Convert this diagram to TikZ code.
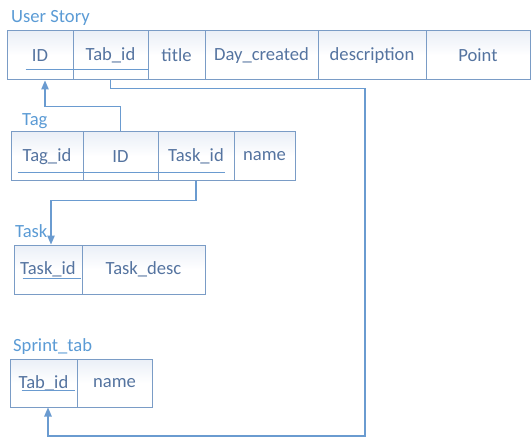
\documentclass[tikz,border=0pt]{standalone}
\usepackage{fontspec}
\setmainfont{Carlito}
\usepackage{xcolor}
\usepackage{tikz}
\usetikzlibrary{arrows.meta,positioning}

\definecolor{cellline}{HTML}{7A9CC6}
\definecolor{celltext}{HTML}{5574A0}
\definecolor{lblblue}{HTML}{5B9BD5}
\definecolor{linkblue}{HTML}{6A9BD0}
\definecolor{cellshade}{HTML}{EAEFF7}

\tikzset{
    cell/.style={draw=cellline, line width=1pt, top color=cellshade, bottom color=white,
        middle color=white, minimum height=49pt, inner sep=0pt, text=celltext,
        font=\fontsize{18.6}{20}\selectfont},
    lbl/.style={anchor=base west, inner sep=0pt, text=lblblue, font=\fontsize{18.6}{20}\selectfont},
    uline/.style={draw=linkblue, line width=0.9pt},
    link/.style={draw=linkblue, line width=1.1pt, -{Triangle[length=9pt,width=7.5pt]}}
}

\begin{document}
\begin{tikzpicture}[x=1pt, y=-1pt]
    \useasboundingbox (0,0) rectangle (532,438);

    % User Story table
    \node[lbl] (usLbl) at (11,23) {User Story};
    \foreach \nm/\txt/\x/\w in {
        ID/ID/40/66,
        Tab/Tab\_id/110.5/75,
        Title/title/176.5/57,
        Day/Day\_created/261.5/113,
        Desc/description/372/108,
        Point/Point/478/104
    } {
        \node[cell, minimum width=\w pt] (us\nm) at (\x,55.5) {\txt};
    }
    \draw[uline] ([xshift=19pt,yshift=11pt]usID.south west) -- ([yshift=11pt]usID.south east);
    \draw[uline] ([yshift=11pt]usTab.south west) -- ([yshift=11pt]usTab.south east);

    % Tag table
    \node[lbl] (tgLbl) at (22,126) {Tag};
    \foreach \nm/\txt/\x/\w in {
        Tag/Tag\_id/47/72,
        ID/ID/120.5/75,
        Task/Task\_id/196/76,
        Name/name/264.5/61
    } {
        \node[cell, minimum width=\w pt] (tg\nm) at (\x,156.5) {\txt};
    }
    \draw[uline] ([xshift=7pt,yshift=9pt]tgTag.south west) -- ([yshift=9pt]tgTag.south east);
    \draw[uline] ([yshift=9pt]tgID.south west) -- ([yshift=9pt]tgID.south east);
    \draw[uline] ([yshift=9pt]tgTask.south west) -- ([xshift=-10pt,yshift=9pt]tgTask.south east);

    % Task table
    \node[lbl] (tkLbl) at (15,237) {Task};
    \foreach \nm/\txt/\x/\w in {
        Task/Task\_id/48/68,
        Desc/Task\_desc/143.5/123
    } {
        \node[cell, minimum width=\w pt] (tk\nm) at (\x,269.5) {\txt};
    }
    \draw[uline] ([xshift=9pt,yshift=16pt]tkTask.south west) -- ([xshift=-2pt,yshift=16pt]tkTask.south east);

    % Sprint_tab table
    \node[lbl] (spLbl) at (13,351) {Sprint\_tab};
    \foreach \nm/\txt/\x/\w in {
        Tab/Tab\_id/43.5/67,
        Name/name/114.5/75
    } {
        \node[cell, minimum width=\w pt, minimum height=48pt] (sp\nm) at (\x,383) {\txt};
    }
    \draw[uline] ([xshift=12pt,yshift=17pt]spTab.south west) -- ([xshift=-3pt,yshift=17pt]spTab.south east);

    % Keys
    \coordinate (loopR) at (365,436);
    \draw[link] (tgID.north) -- ++(0,-25) -| ([xshift=5pt]usID.south);
    \draw[link] (tgTask.south) -- ++(0,19) -| ([xshift=3pt]tkTask.north);
    \draw[link] (usTab.south) -- ++(0,8) -| (loopR) -| ([xshift=4.5pt]spTab.south);
\end{tikzpicture}
\end{document}
